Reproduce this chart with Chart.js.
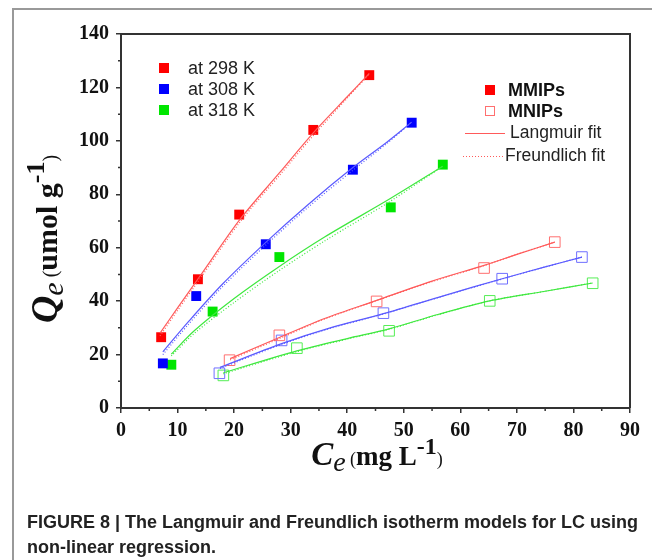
<!DOCTYPE html>
<html>
<head>
<meta charset="utf-8">
<script src="https://cdn.jsdelivr.net/npm/chart.js@4"></script>
<style>
  html, body { margin: 0; padding: 0; background: #fff; }
  #wrap { position: relative; width: 652px; height: 560px; overflow: hidden; }
  #frame { position: absolute; left: 12px; top: 8px; width: 660px; height: 600px;
           border-left: 2px solid #999; border-top: 2px solid #999; }
  #caption { position: absolute; left: 27px; top: 510px; width: 640px;
             font: bold 18px "Liberation Sans", Arial, sans-serif; line-height: 25px; color: #222; white-space: nowrap; }
  canvas { position: absolute; left: 0; top: 0; }
</style>
</head>
<body>
<div id="wrap">
  <div id="frame"></div>
  <canvas id="myChart" width="652" height="560"></canvas>
  <div id="caption">FIGURE 8 | The Langmuir and Freundlich isotherm models for LC using<br>non-linear regression.</div>
</div>
<script>
// experimental points, Ce (mg/L) and Qe (umol/g)
var ce298 = [7.1, 13.6, 20.9, 34.0, 43.9];
var qe298 = [26.5, 48.2, 72.4, 104.1, 124.6];
var ce308 = [7.4, 13.3, 25.6, 41.0, 51.4];
var qe308 = [16.7, 41.9, 61.3, 89.2, 106.8];
var ce318 = [8.9, 16.2, 28.0, 47.7, 56.9];
var qe318 = [16.2, 36.1, 56.5, 75.1, 91.1];

var ceNip298 = [19.2, 28.0, 45.2, 64.2, 76.7];
var qeNip298 = [17.9, 27.2, 39.9, 52.4, 62.1];
var ceNip308 = [17.4, 28.4, 46.4, 67.4, 81.5];
var qeNip308 = [13.0, 25.3, 35.5, 48.4, 56.5];
var ceNip318 = [18.1, 31.1, 47.4, 65.2, 83.4];
var qeNip318 = [12.2, 22.4, 28.9, 40.1, 46.7];

// fitted curves
var fitX298 = [6.9, 10, 14, 21, 28, 34, 40, 43.9];
var lang298 = [28, 37.5, 49.5, 70.5, 88, 103, 116.5, 125.2];
var freu298 = [27, 36.5, 48.5, 69.5, 87, 102, 116, 125];
var fitX308 = [7.4, 12, 18, 25.6, 33, 41, 47, 51.4];
var lang308 = [21, 32.5, 46.5, 62, 76, 90, 99.5, 107];
var freu308 = [20, 31.5, 45.5, 61, 75, 89, 99, 107];
var fitX318 = [8.9, 13, 20, 28, 36, 47.7, 56.9];
var lang318 = [20.2, 29, 41, 53, 64, 78.5, 90.5];
var freu318 = [19.5, 28, 39.5, 51.5, 62.5, 77.5, 90.5];

var fitXNip298 = [19.3, 28, 36, 45.2, 55, 64.2, 70, 76.7];
var langNip298 = [18.5, 26.4, 33.5, 40.3, 47.5, 53.4, 57.5, 62.1];
var freuNip298 = [18, 26, 33.3, 40.2, 47.3, 53.3, 57.5, 62.1];
var fitXNip308 = [17.5, 28.4, 37, 46.4, 57, 67.4, 75, 81.5];
var langNip308 = [15.2, 24.1, 30, 35.3, 42, 48.4, 52.8, 56.5];
var freuNip308 = [14.8, 23.8, 29.8, 35.2, 41.9, 48.3, 52.8, 56.5];
var fitXNip318 = [18.1, 31.1, 40, 47.4, 56, 65.2, 75, 83.4];
var langNip318 = [13.2, 21.4, 26, 29.6, 35, 40.1, 43.7, 46.8];
var freuNip318 = [12.8, 21.1, 25.8, 29.5, 34.9, 40.1, 43.7, 46.8];

var xTicks = [0, 10, 20, 30, 40, 50, 60, 70, 80, 90];
var yTicks = [0, 20, 40, 60, 80, 100, 120, 140];

var RED = '#ff0000', BLUE = '#0000ff', GREEN = '#00e600';
var RED_L = '#ff5a5a', BLUE_L = '#5a5aff', GREEN_L = '#3ee83e';

function pts(xs, ys) { return xs.map(function (x, i) { return { x: x, y: ys[i] }; }); }

function fitSet(xs, ys, color, dotted) {
  return {
    data: pts(xs, ys), showLine: true, borderColor: color, borderWidth: 1.2,
    borderDash: dotted ? [1, 2] : [], pointRadius: 0, tension: 0.3, fill: false
  };
}
function pointSet(xs, ys, color, open) {
  return {
    data: pts(xs, ys), showLine: false, pointStyle: 'rect',
    pointRadius: open ? 7.5 : 7, borderWidth: open ? 1 : 0,
    borderColor: color, backgroundColor: open ? 'rgba(0,0,0,0)' : color
  };
}

var serif = '"Liberation Serif", "Times New Roman", serif';
var sans = '"Liberation Sans", Arial, sans-serif';

// draws the box, minor ticks, axis titles and the two legends
var decor = {
  id: 'decor',
  afterDraw: function (chart) {
    var c = chart.ctx, a = chart.chartArea, xs = chart.scales.x, ys = chart.scales.y;
    c.save();
    c.strokeStyle = '#333';
    c.lineWidth = 2;
    c.beginPath();
    c.moveTo(a.left, a.top); c.lineTo(a.right, a.top); c.lineTo(a.right, a.bottom);
    c.stroke();
    // minor ticks
    c.lineWidth = 1.5;
    c.beginPath();
    for (var i = 0; i < xTicks.length - 1; i++) {
      var px = xs.getPixelForValue((xTicks[i] + xTicks[i + 1]) / 2);
      c.moveTo(px, a.bottom); c.lineTo(px, a.bottom + 3);
    }
    for (var j = 0; j < yTicks.length - 1; j++) {
      var py = ys.getPixelForValue((yTicks[j] + yTicks[j + 1]) / 2);
      c.moveTo(a.left, py); c.lineTo(a.left - 3, py);
    }
    c.stroke();

    // x title: Ce (mg L-1)
    c.fillStyle = '#111';
    c.textBaseline = 'alphabetic';
    var parts = [
      ['C', 'italic bold 33px ' + serif, 0],
      ['e', 'italic 28px ' + serif, 6],
      [' (', '18px ' + serif, 0],
      ['mg L', 'bold 27px ' + serif, 0],
      ['-1', 'bold 24px ' + serif, -11],
      [')', '18px ' + serif, 0]
    ];
    drawParts(c, parts, 377, 465);

    // y title, rotated
    c.save();
    c.translate(57, 239);
    c.rotate(-Math.PI / 2);
    var yparts = [
      ['Q', 'italic bold 38px ' + serif, 0],
      ['e', 'italic 30px ' + serif, 6],
      [' (', '20px ' + serif, 0],
      ['umol g', 'bold 30px ' + serif, 0],
      ['-1', 'bold 26px ' + serif, -13],
      [')', '20px ' + serif, 0]
    ];
    drawParts(c, yparts, 0, 0);
    c.restore();

    // legend 1: temperatures
    var temps = [['at 298 K', RED], ['at 308 K', BLUE], ['at 318 K', GREEN]];
    c.font = '18px ' + sans;
    c.textBaseline = 'middle';
    temps.forEach(function (t, k) {
      var yy = a.top + 34 + k * 21;
      c.fillStyle = t[1];
      c.fillRect(a.left + 38, yy - 5, 10, 10);
      c.fillStyle = '#222';
      c.fillText(t[0], a.left + 67, yy + 1);
    });

    // legend 2: materials and fits
    var lx = a.left + 344, ly = a.top + 56;
    c.fillStyle = RED;
    c.fillRect(lx + 20, ly - 5, 10, 10);
    c.strokeStyle = '#ff6f6f'; c.lineWidth = 1;
    c.strokeRect(lx + 20.5, ly + 16.5, 9, 9);
    c.fillStyle = '#111';
    c.font = 'bold 18px ' + sans;
    c.fillText('MMIPs', lx + 43, ly + 1);
    c.fillText('MNIPs', lx + 43, ly + 22);
    c.font = '17.5px ' + sans;
    c.strokeStyle = RED_L;
    c.beginPath(); c.moveTo(lx, ly + 43.5); c.lineTo(lx + 40, ly + 43.5); c.stroke();
    c.setLineDash([1, 2]);
    c.beginPath(); c.moveTo(lx - 2, ly + 66.5); c.lineTo(lx + 38, ly + 66.5); c.stroke();
    c.setLineDash([]);
    c.fillStyle = '#222';
    c.fillText('Langmuir fit', lx + 45, ly + 43);
    c.fillText('Freundlich fit', lx + 40, ly + 66);
    c.restore();
  }
};

function drawParts(c, parts, cx, baseY) {
  var total = 0;
  parts.forEach(function (p) { c.font = p[1]; total += c.measureText(p[0]).width; });
  var x = cx - total / 2;
  c.textAlign = 'left';
  parts.forEach(function (p) {
    c.font = p[1];
    c.fillText(p[0], x, baseY + p[2]);
    x += c.measureText(p[0]).width;
  });
}

var ctx = document.getElementById('myChart');

var myChart = new Chart(ctx, {
  type: 'scatter',
  data: {
    datasets: [
      fitSet(fitX298, lang298, RED_L, false),
      fitSet(fitX298, freu298, RED_L, true),
      fitSet(fitX308, lang308, BLUE_L, false),
      fitSet(fitX308, freu308, BLUE_L, true),
      fitSet(fitX318, lang318, GREEN_L, false),
      fitSet(fitX318, freu318, GREEN_L, true),
      fitSet(fitXNip298, langNip298, RED_L, false),
      fitSet(fitXNip298, freuNip298, RED_L, true),
      fitSet(fitXNip308, langNip308, BLUE_L, false),
      fitSet(fitXNip308, freuNip308, BLUE_L, true),
      fitSet(fitXNip318, langNip318, GREEN_L, false),
      fitSet(fitXNip318, freuNip318, GREEN_L, true),
      pointSet(ce298, qe298, RED, false),
      pointSet(ce308, qe308, BLUE, false),
      pointSet(ce318, qe318, GREEN, false),
      pointSet(ceNip298, qeNip298, '#ff6f6f', true),
      pointSet(ceNip308, qeNip308, '#6f6fff', true),
      pointSet(ceNip318, qeNip318, '#55ee55', true)
    ]
  },
  options: {
    responsive: false,
    animation: false,
    layout: { padding: { top: 34, right: 22, left: 0, bottom: 0 } },
    plugins: { legend: { display: false }, tooltip: { enabled: false } },
    scales: {
      x: {
        type: 'linear', min: 0, max: 90,
        afterFit: function (s) { s.height = 152; },
        afterBuildTicks: function (s) { s.ticks = xTicks.map(function (v) { return { value: v }; }); },
        border: { display: true, color: '#333', width: 2 },
        grid: { drawOnChartArea: false, drawTicks: true, tickLength: 5, color: '#333', lineWidth: 1.5 },
        ticks: { color: '#111', padding: 6, font: { family: serif, size: 20, weight: 'bold' }, maxRotation: 0 }
      },
      y: {
        type: 'linear', min: 0, max: 140,
        afterFit: function (s) { s.width = 121; },
        afterBuildTicks: function (s) { s.ticks = yTicks.map(function (v) { return { value: v }; }); },
        border: { display: true, color: '#333', width: 2 },
        grid: { drawOnChartArea: false, drawTicks: true, tickLength: 5, color: '#333', lineWidth: 1.5 },
        ticks: { color: '#111', padding: 7, font: { family: serif, size: 20, weight: 'bold' } }
      }
    }
  },
  plugins: [decor]
});
</script>
</body>
</html>
